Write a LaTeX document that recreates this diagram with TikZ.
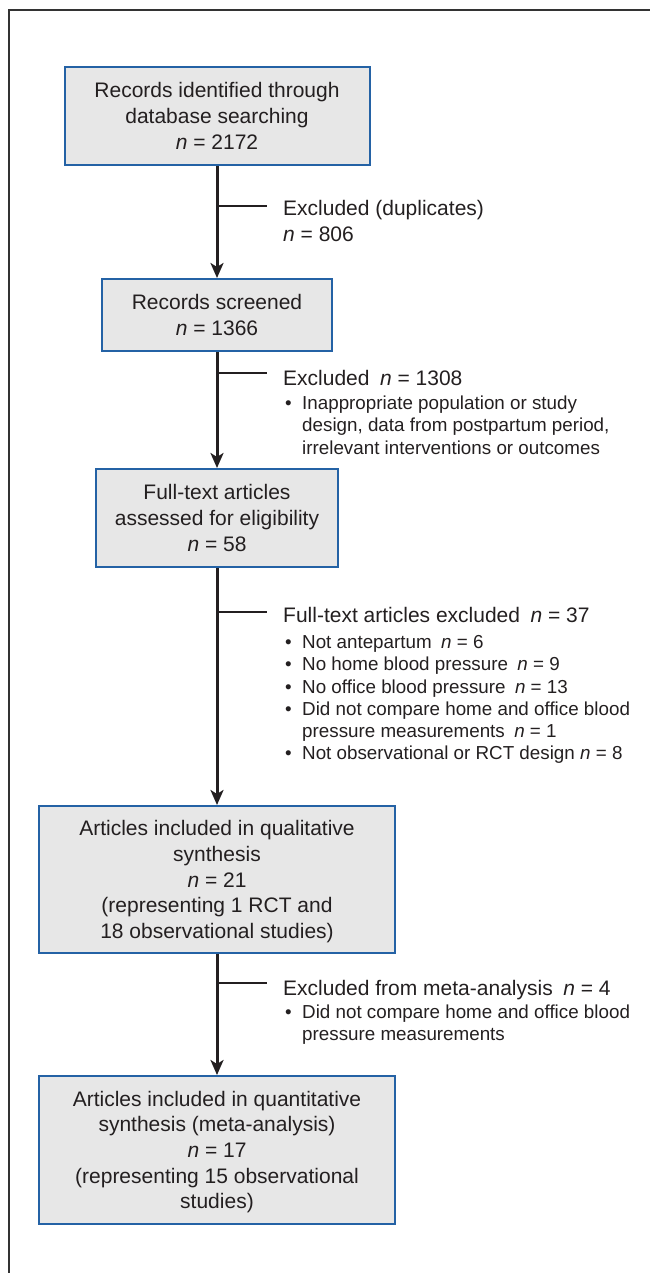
\documentclass[tikz,border=0pt]{standalone}
\usepackage{fontspec}
\setmainfont{Liberation Sans}
\usetikzlibrary{arrows.meta}
\definecolor{ink}{HTML}{231F20}
\definecolor{boxfill}{HTML}{E7E7E7}
\definecolor{boxline}{HTML}{2462A5}
\definecolor{framecol}{HTML}{333333}
\newcommand{\bfs}{\fontsize{21}{25.7}\selectfont}
\newcommand{\sfz}{\fontsize{18.8}{22.2}\selectfont}
\newcommand{\nn}{\textit{n}}
\newcommand{\bitem}[1]{\makebox[17pt][l]{\textbullet}#1}
\newcommand{\bcont}[1]{\hspace*{17pt}#1}
\begin{document}
\begin{tikzpicture}[x=1pt,y=-1pt,
  flowbox/.style={draw=boxline, line width=2pt, fill=boxfill, align=center,
    font=\bfs, text=ink, inner sep=0pt},
  trunk/.style={draw=ink, line width=3pt, -{Stealth[length=15pt,width=13pt,inset=4pt]}},
  branch/.style={draw=ink, line width=2pt},
  exctitle/.style={anchor=base west, font=\bfs, text=ink, inner sep=0pt},
  bullets/.style={anchor=base west, font=\sfz, text=ink, inner sep=0pt},
  frameline/.style={draw=framecol, line width=1.5pt}]
\useasboundingbox (0,0) rectangle (650,1273);
% frame
\coordinate (fa) at (9,1273);
\coordinate (fb) at (9,10);
\coordinate (fc) at (650,10);
\draw[frameline] (fa) -- (fb) -- (fc);

% boxes
\node[flowbox, minimum width=305pt, minimum height=98pt] (b1) at (217,116)
  {Records identified through\\database searching\\\nn{} = 2172};
\node[flowbox, minimum width=230pt, minimum height=72pt] (b2) at (217,315)
  {Records screened\\\nn{} = 1366};
\node[flowbox, minimum width=242pt, minimum height=98pt] (b3) at (217,518)
  {Full-text articles\\assessed for eligibility\\\nn{} = 58};
\node[flowbox, minimum width=356pt, minimum height=147pt] (b4) at (217,879.5)
  {Articles included in qualitative\\synthesis\\\nn{} = 21\\(representing 1 RCT and\\18 observational studies\smash{)}};
\node[flowbox, minimum width=356pt, minimum height=148pt] (b5) at (217,1150)
  {Articles included in quantitative\\synthesis (meta-analysis)\\\nn{} = 17\\(representing 15 observational\\studies\smash{)}};

% trunk arrows
\draw[trunk] (b1.south) -- (b2.north);
\draw[trunk] (b2.south) -- (b3.north);
\draw[trunk] (b3.south) -- (b4.north);
\draw[trunk] (b4.south) -- (b5.north);

% branches
\coordinate (j1) at (217,206); \coordinate (k1) at (267,206);
\coordinate (j2) at (217,373); \coordinate (k2) at (267,373);
\coordinate (j3) at (217,612); \coordinate (k3) at (267,612);
\coordinate (j4) at (217,983); \coordinate (k4) at (267,983);
\draw[branch] (j1) -- (k1);
\draw[branch] (j2) -- (k2);
\draw[branch] (j3) -- (k3);
\draw[branch] (j4) -- (k4);

% exclusion texts
\node[exctitle] (e1) at (283,215.6)
  {\parbox[t]{340pt}{Excluded (duplicates)\\\nn{} = 806}};

\node[exctitle] (e2) at (283,385.6) {Excluded\enspace\nn{} = 1308};
\node[bullets] (l2) at (285,409.7)
  {\parbox[t]{360pt}{\bitem{Inappropriate population or study}\\
   \bcont{design, data from postpartum period,}\\
   \bcont{irrelevant interventions or outcomes}}};

\node[exctitle] (e3) at (283,622.6) {Full-text articles excluded\enspace\nn{} = 37};
\node[bullets] (l3) at (285,648.7)
  {\parbox[t]{360pt}{\bitem{Not antepartum\enspace\nn{} = 6}\\
   \bitem{No home blood pressure\enspace\nn{} = 9}\\
   \bitem{No office blood pressure\enspace\nn{} = 13}\\
   \bitem{Did not compare home and office blood}\\
   \bcont{pressure measurements\enspace\nn{} = 1}\\
   \bitem{Not observational or RCT design \nn{} = 8}}};

\node[exctitle] (e4) at (283,995.6) {Excluded from meta-analysis\enspace\nn{} = 4};
\node[bullets] (l4) at (285,1018.7)
  {\parbox[t]{360pt}{\bitem{Did not compare home and office blood}\\
   \bcont{pressure measurements}}};
\end{tikzpicture}
\end{document}
